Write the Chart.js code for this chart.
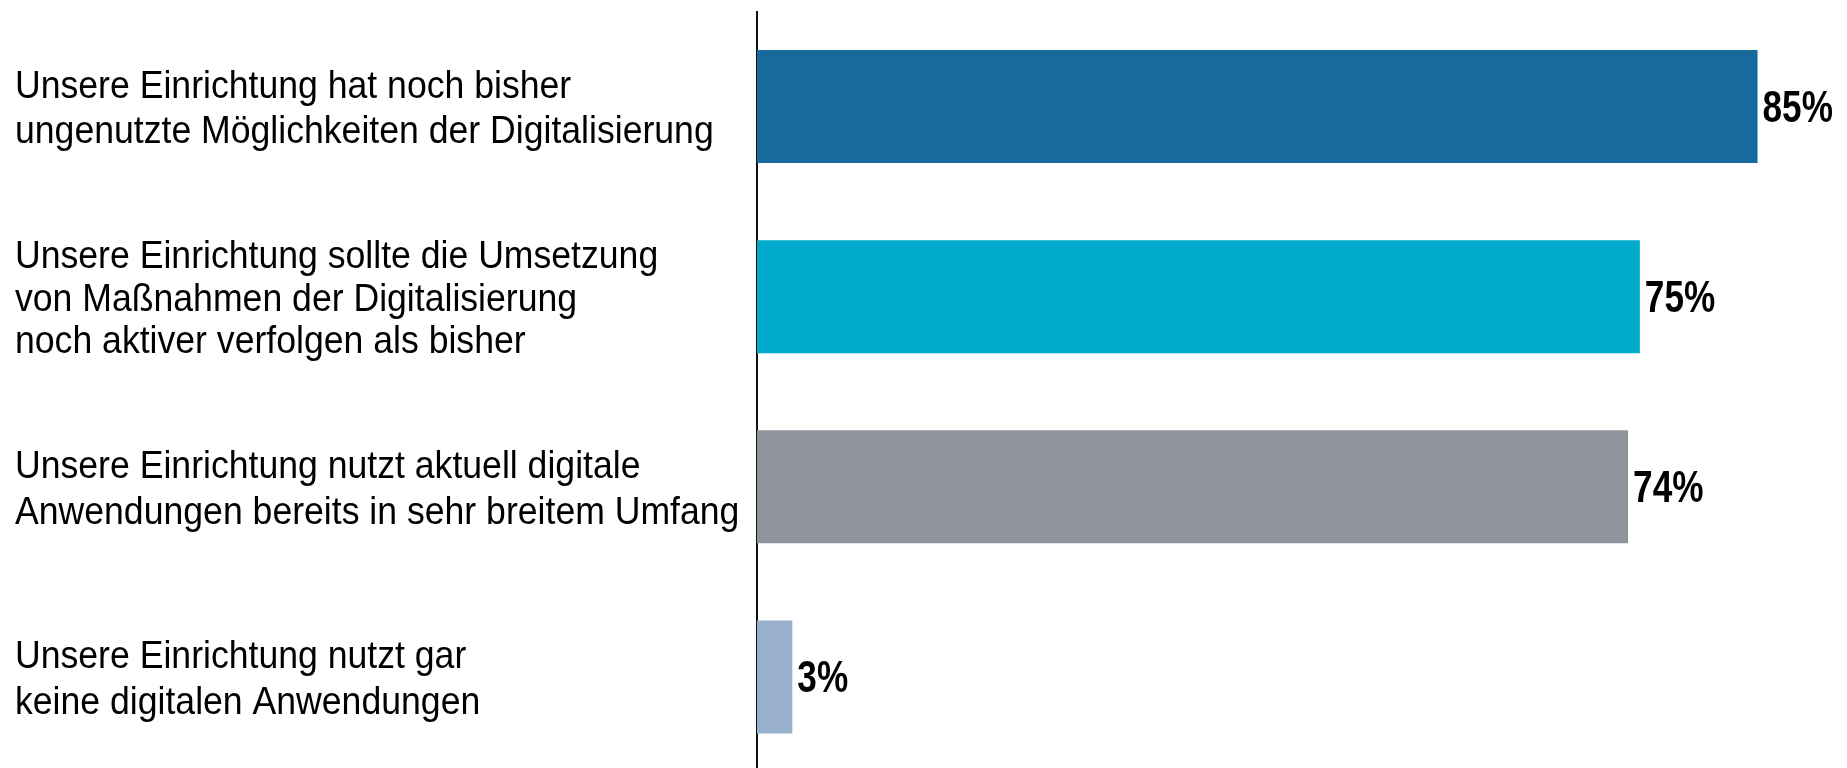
<!DOCTYPE html>
<html>
<head>
<meta charset="utf-8">
<script src="https://cdn.jsdelivr.net/npm/chart.js@4"></script>
<style>
html,body{margin:0;padding:0;background:#fff;overflow:hidden;}
#wrap{width:1847px;height:768px;position:relative;overflow:hidden;}
canvas{display:block;}
</style>
</head>
<body>
<div id="wrap"><canvas id="c" width="1847" height="772"></canvas></div>
<script>
const categories = [
  ["Unsere Einrichtung hat noch bisher", "ungenutzte Möglichkeiten der Digitalisierung"],
  ["Unsere Einrichtung sollte die Umsetzung", "von Maßnahmen der Digitalisierung", "noch aktiver verfolgen als bisher"],
  ["Unsere Einrichtung nutzt aktuell digitale", "Anwendungen bereits in sehr breitem Umfang"],
  ["Unsere Einrichtung nutzt gar", "keine digitalen Anwendungen"]
];
const values = [85, 75, 74, 3];
const valueLabels = ["85%", "75%", "74%", "3%"];
const barColors = ["#176A9B", "#00AACA", "#8F939B", "#98B0CC"];

// Condensed-looking text: Liberation Sans squeezed horizontally
function drawSqueezed(ctx, text, x, y, sx) {
  ctx.save();
  ctx.translate(x, y);
  ctx.scale(sx, 1);
  ctx.fillText(text, 0, 0);
  ctx.restore();
}

const textPlugin = {
  id: 'texts',
  afterDraw(chart) {
    const ctx = chart.ctx;
    const yScale = chart.scales.y;
    const meta = chart.getDatasetMeta(0);
    ctx.save();
    ctx.fillStyle = '#000';
    ctx.textAlign = 'left';
    ctx.textBaseline = 'alphabetic';
    // category labels
    ctx.font = '39px "Liberation Sans", Arial, sans-serif';
    categories.forEach((lines, i) => {
      const cy = yScale.getPixelForTick(i);
      const pitch = lines.length === 3 ? 42.5 : 45.8;
      const first = cy - pitch * (lines.length - 1) / 2;
      lines.forEach((ln, k) => {
        drawSqueezed(ctx, ln, 15, first + k * pitch + 14, 0.913);
      });
    });
    // value labels
    ctx.font = 'bold 44px "Liberation Sans", Arial, sans-serif';
    meta.data.forEach((bar, i) => {
      drawSqueezed(ctx, valueLabels[i], bar.x + 5, bar.y + 15.5, 0.8);
    });
    ctx.restore();
  }
};

new Chart(document.getElementById('c'), {
  type: 'bar',
  data: {
    labels: categories.map(l => l.join(' ')),
    datasets: [{
      data: values,
      backgroundColor: barColors,
      borderWidth: 0,
      barPercentage: 0.595,
      categoryPercentage: 1
    }]
  },
  options: {
    indexAxis: 'y',
    responsive: false,
    animation: false,
    layout: { padding: { left: 14, top: 11.5, bottom: 0, right: 0 } },
    plugins: { legend: { display: false }, tooltip: { enabled: false } },
    scales: {
      x: {
        min: 0, max: 92.6,
        display: false,
        grid: { display: false }
      },
      y: {
        afterFit(s) { s.width = 743; s.paddingTop = 0; s.paddingBottom = 0; },
        grid: { display: false, drawTicks: false },
        border: { display: true, color: '#111', width: 2 },
        ticks: { display: false }
      }
    }
  },
  plugins: [textPlugin]
});
</script>
</body>
</html>
